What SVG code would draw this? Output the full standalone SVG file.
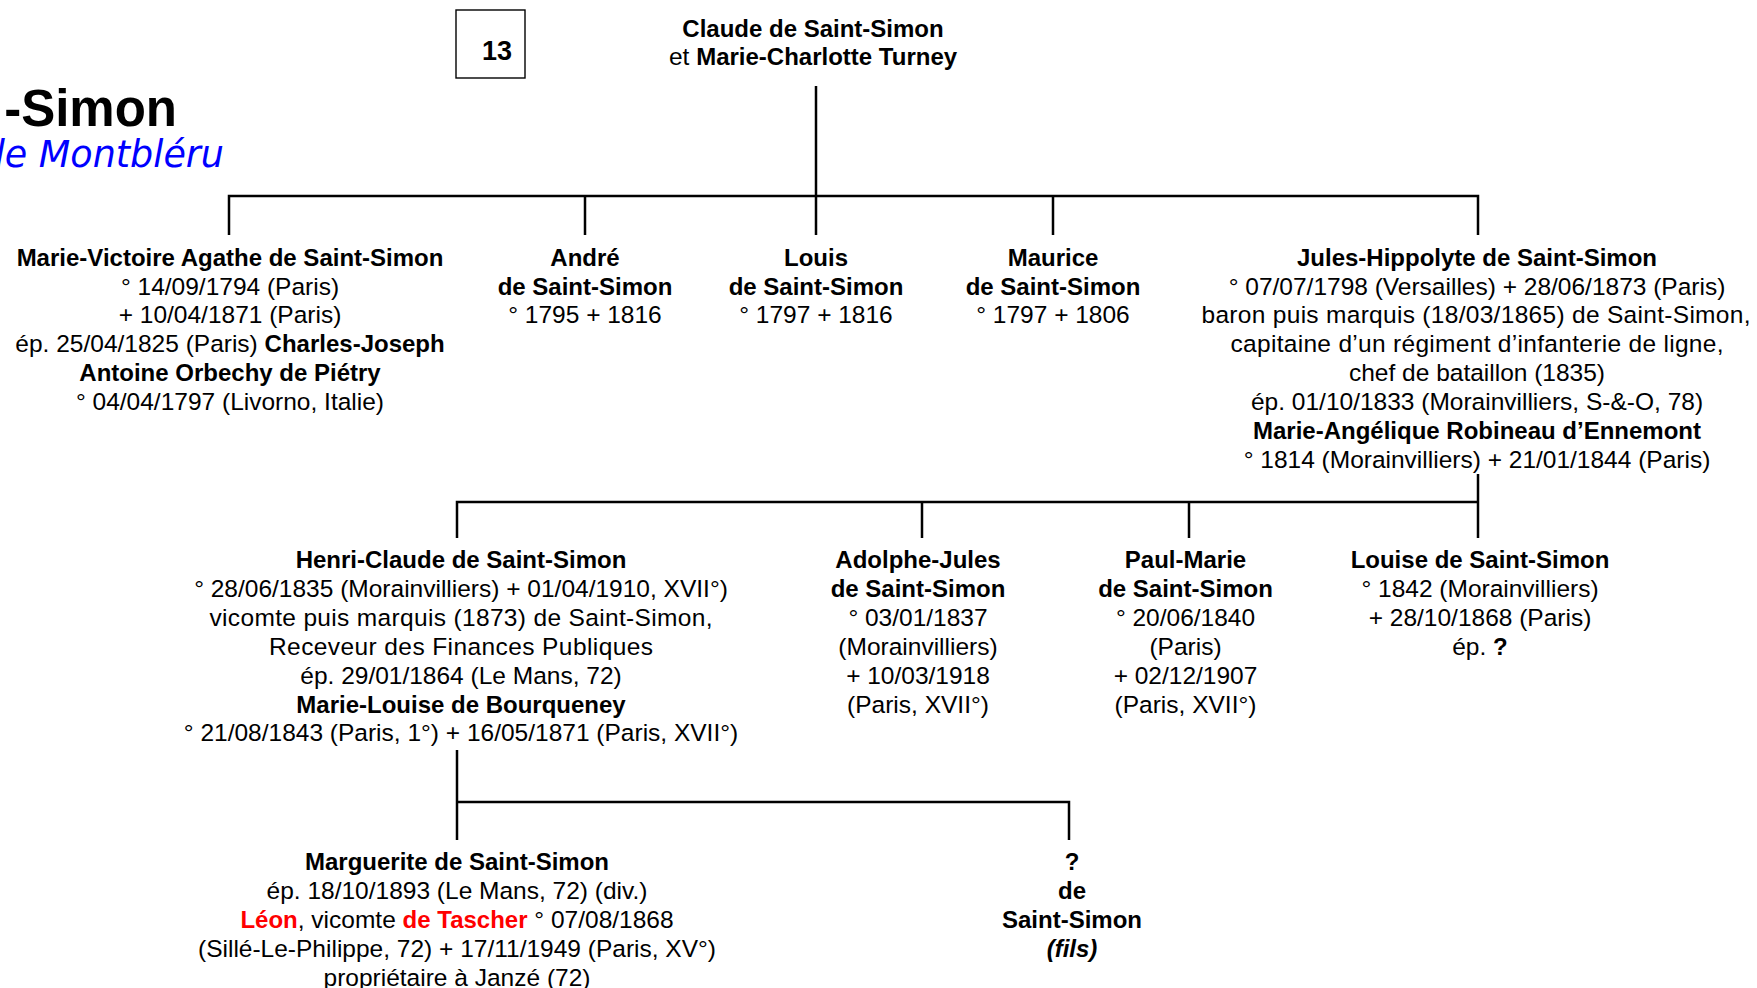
<svg xmlns="http://www.w3.org/2000/svg" width="1757" height="988" viewBox="0 0 1757 988">
<style>
text{font-family:"Liberation Sans",Arial,sans-serif;font-size:24.5px;fill:#000;text-anchor:middle}
.b{font-weight:bold;font-size:24px}
.r{fill:#FF0000}
.i{font-style:italic}
.ln{fill:none;stroke:#000;stroke-width:2.5;stroke-linejoin:miter}
</style>
<rect width="1757" height="988" fill="#fff"/>
<g id="title">
<text x="177" y="126" style="font-weight:bold;font-size:51px;text-anchor:end">-Simon</text>
<text x="224" y="167" style="font-family:'DejaVu Sans',Verdana,sans-serif;font-style:italic;font-size:36.5px;fill:#0000FF;text-anchor:end">de Montbléru</text>
</g>
<g id="box13">
<rect x="456" y="10" width="69" height="68" fill="none" stroke="#000" stroke-width="1.4"/>
<text x="497" y="60" style="font-weight:bold;font-size:27px">13</text>
</g>
<g id="connectors">
<path class="ln" d="M816,86V196"/>
<path class="ln" d="M229,235V196H1478V235"/>
<path class="ln" d="M585,196V235M816,196V235M1053,196V235"/>
<path class="ln" d="M1478,474V538"/>
<path class="ln" d="M457,538V502H1478"/>
<path class="ln" d="M922,502V538M1189,502V538"/>
<path class="ln" d="M457,750V840"/>
<path class="ln" d="M457,802H1069V840"/>
</g>
<g id="n-claude">
<text x="813" y="37" class="b">Claude de Saint-Simon</text>
<text x="813" y="65">et <tspan class="b">Marie-Charlotte Turney</tspan></text>
</g>
<g id="n-marie-victoire">
<text x="230" y="265.6" class="b">Marie-Victoire Agathe de Saint-Simon</text>
<text x="230" y="294.5">° 14/09/1794 (Paris)</text>
<text x="230" y="323.4">+ 10/04/1871 (Paris)</text>
<text x="230" y="352.3">ép. 25/04/1825 (Paris) <tspan class="b">Charles-Joseph</tspan></text>
<text x="230" y="381.2" class="b">Antoine Orbechy de Piétry</text>
<text x="230" y="410.1">° 04/04/1797 (Livorno, Italie)</text>
</g>
<g id="n-andre">
<text x="585" y="265.6" class="b">André</text>
<text x="585" y="294.5" class="b">de Saint-Simon</text>
<text x="585" y="323.4">° 1795 + 1816</text>
</g>
<g id="n-louis">
<text x="816" y="265.6" class="b">Louis</text>
<text x="816" y="294.5" class="b">de Saint-Simon</text>
<text x="816" y="323.4">° 1797 + 1816</text>
</g>
<g id="n-maurice">
<text x="1053" y="265.6" class="b">Maurice</text>
<text x="1053" y="294.5" class="b">de Saint-Simon</text>
<text x="1053" y="323.4">° 1797 + 1806</text>
</g>
<g id="n-jules">
<text x="1477" y="265.6" class="b">Jules-Hippolyte de Saint-Simon</text>
<text x="1477" y="294.5">° 07/07/1798 (Versailles) + 28/06/1873 (Paris)</text>
<text x="1476" y="323.4" textLength="549" lengthAdjust="spacing">baron puis marquis (18/03/1865) de Saint-Simon,</text>
<text x="1477" y="352.3" textLength="493" lengthAdjust="spacing">capitaine d’un régiment d’infanterie de ligne,</text>
<text x="1477" y="381.2">chef de bataillon (1835)</text>
<text x="1477" y="410.1">ép. 01/10/1833 (Morainvilliers, S-&amp;-O, 78)</text>
<text x="1477" y="439" class="b">Marie-Angélique Robineau d’Ennemont</text>
<text x="1477" y="467.9">° 1814 (Morainvilliers) + 21/01/1844 (Paris)</text>
</g>
<g id="n-henri">
<text x="461" y="568" class="b">Henri-Claude de Saint-Simon</text>
<text x="461" y="596.9">° 28/06/1835 (Morainvilliers) + 01/04/1910, XVII°)</text>
<text x="461" y="625.8" textLength="503" lengthAdjust="spacing">vicomte puis marquis (1873) de Saint-Simon,</text>
<text x="461" y="654.7" textLength="384" lengthAdjust="spacing">Receveur des Finances Publiques</text>
<text x="461" y="683.6">ép. 29/01/1864 (Le Mans, 72)</text>
<text x="461" y="712.5" class="b">Marie-Louise de Bourqueney</text>
<text x="461" y="741.4">° 21/08/1843 (Paris, 1°) + 16/05/1871 (Paris, XVII°)</text>
</g>
<g id="n-adolphe">
<text x="918" y="568" class="b">Adolphe-Jules</text>
<text x="918" y="596.9" class="b">de Saint-Simon</text>
<text x="918" y="625.8">° 03/01/1837</text>
<text x="918" y="654.7">(Morainvilliers)</text>
<text x="918" y="683.6">+ 10/03/1918</text>
<text x="918" y="712.5">(Paris, XVII°)</text>
</g>
<g id="n-paul">
<text x="1185.5" y="568" class="b">Paul-Marie</text>
<text x="1185.5" y="596.9" class="b">de Saint-Simon</text>
<text x="1185.5" y="625.8">° 20/06/1840</text>
<text x="1185.5" y="654.7">(Paris)</text>
<text x="1185.5" y="683.6">+ 02/12/1907</text>
<text x="1185.5" y="712.5">(Paris, XVII°)</text>
</g>
<g id="n-louise">
<text x="1480" y="568" class="b">Louise de Saint-Simon</text>
<text x="1480" y="596.9">° 1842 (Morainvilliers)</text>
<text x="1480" y="625.8">+ 28/10/1868 (Paris)</text>
<text x="1480" y="654.7">ép. <tspan class="b">?</tspan></text>
</g>
<g id="n-marguerite">
<text x="457" y="870" class="b">Marguerite de Saint-Simon</text>
<text x="457" y="898.9">ép. 18/10/1893 (Le Mans, 72) (div.)</text>
<text x="457" y="927.8"><tspan class="b r">Léon</tspan>, vicomte <tspan class="b r">de Tascher</tspan> ° 07/08/1868</text>
<text x="457" y="956.7">(Sillé-Le-Philippe, 72) + 17/11/1949 (Paris, XV°)</text>
<text x="457" y="985.6">propriétaire à Janzé (72)</text>
</g>
<g id="n-fils">
<text x="1072" y="870" class="b">?</text>
<text x="1072" y="898.9" class="b">de</text>
<text x="1072" y="927.8" class="b">Saint-Simon</text>
<text x="1072" y="956.7" class="b i">(fils)</text>
</g>
</svg>
